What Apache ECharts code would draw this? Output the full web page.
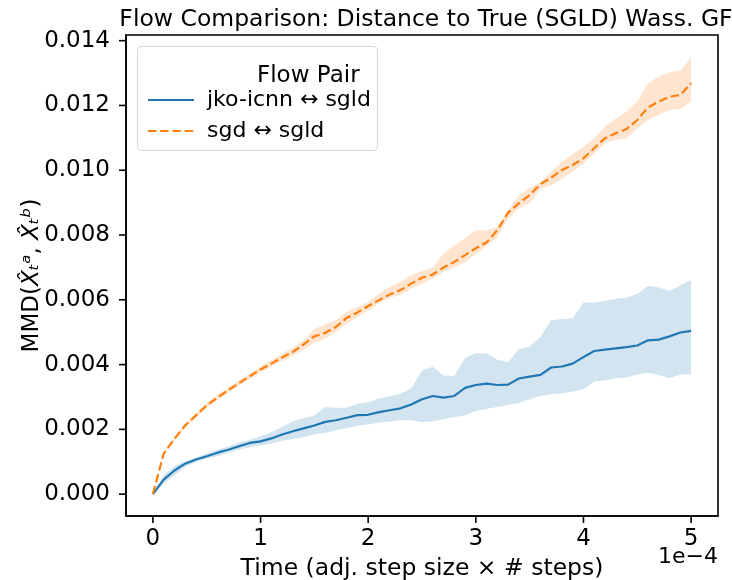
<!DOCTYPE html>
<html>
<head>
<meta charset="utf-8">
<script src="https://cdn.jsdelivr.net/npm/echarts@6/dist/echarts.min.js"></script>
<style>
html, body { margin: 0; padding: 0; background: #fff; }
#chart { width: 732px; height: 580px; }
</style>
</head>
<body>
<div id="chart"></div>
<script>
// time axis (units of 1e-4)
var times = [0, 0.1, 0.2, 0.3, 0.4, 0.5, 0.6, 0.7, 0.8, 0.9, 1.0,
  1.1, 1.2, 1.3, 1.4, 1.5, 1.6, 1.7, 1.8, 1.9, 2.0,
  2.1, 2.2, 2.3, 2.4, 2.5, 2.6, 2.7, 2.8, 2.9, 3.0,
  3.1, 3.2, 3.3, 3.4, 3.5, 3.6, 3.7, 3.8, 3.9, 4.0,
  4.1, 4.2, 4.3, 4.4, 4.5, 4.6, 4.7, 4.8, 4.9, 5.0]

var xTicks = [0, 1, 2, 3, 4, 5]
var yTicks = [0, 0.002, 0.004, 0.006, 0.008, 0.010, 0.012, 0.014]
var xMin = -0.25, xMax = 5.25
var yMin = -0.000675, yMax = 0.014175

// jko-icnn <-> sgld
var jkoMean = [0, 0.00045, 0.00073, 0.00094, 0.00107, 0.00117, 0.00128, 0.00137, 0.00148, 0.00158, 0.00163,
  0.00172, 0.00184, 0.00194, 0.00203, 0.00212, 0.00223, 0.00228, 0.00236, 0.00244, 0.00245,
  0.00253, 0.00259, 0.00265, 0.00277, 0.00293, 0.00303, 0.00298, 0.00303, 0.00328, 0.00337,
  0.00341, 0.00337, 0.00338, 0.00357, 0.00363, 0.00368, 0.00391, 0.00394, 0.00403, 0.00423,
  0.00442, 0.00446, 0.00450, 0.00454, 0.00459, 0.00475, 0.00477, 0.00487, 0.00499, 0.00504]
var jkoUpper = [0, 0.00058, 0.00087, 0.00102, 0.00113, 0.00126, 0.00137, 0.00147, 0.00159, 0.00168, 0.00179,
  0.00192, 0.00207, 0.00225, 0.00234, 0.00243, 0.00269, 0.00267, 0.00267, 0.00279, 0.00284,
  0.00295, 0.00302, 0.00310, 0.00326, 0.00382, 0.00393, 0.00367, 0.00365, 0.00420, 0.00435,
  0.00435, 0.00415, 0.00408, 0.00447, 0.00456, 0.00485, 0.00537, 0.00541, 0.00543, 0.00592,
  0.00592, 0.00596, 0.00603, 0.00606, 0.00618, 0.00643, 0.00638, 0.00627, 0.00644, 0.00661]
var jkoLower = [0, 0.00032, 0.00058, 0.00084, 0.00099, 0.00109, 0.00117, 0.00128, 0.00137, 0.00145, 0.00151,
  0.00156, 0.00164, 0.00170, 0.00176, 0.00185, 0.00189, 0.00197, 0.00204, 0.00211, 0.00215,
  0.00221, 0.00224, 0.00228, 0.00228, 0.00223, 0.00225, 0.00231, 0.00238, 0.00243, 0.00257,
  0.00264, 0.00269, 0.00276, 0.00281, 0.00293, 0.00303, 0.00308, 0.00311, 0.00317, 0.00324,
  0.00348, 0.00351, 0.00358, 0.00360, 0.00369, 0.00375, 0.00368, 0.00358, 0.00370, 0.00369]

// sgd <-> sgld
var sgdMean = [0, 0.00125, 0.00171, 0.00212, 0.00243, 0.00274, 0.00298, 0.00321, 0.00343, 0.00364, 0.00385,
  0.00403, 0.00422, 0.00439, 0.00462, 0.00487, 0.00498, 0.00516, 0.00544, 0.00561, 0.00581,
  0.00599, 0.00616, 0.00630, 0.00650, 0.00668, 0.00678, 0.00700, 0.00717, 0.00738, 0.00759,
  0.00777, 0.00815, 0.00869, 0.00898, 0.00923, 0.00957, 0.00977, 0.01001, 0.01016, 0.01037,
  0.01068, 0.01099, 0.01114, 0.01127, 0.01155, 0.01194, 0.01212, 0.01227, 0.01232, 0.01269]
var sgdUpper = [0, 0.00128, 0.00176, 0.00218, 0.00250, 0.00281, 0.00306, 0.00329, 0.00351, 0.00373, 0.00395,
  0.00414, 0.00434, 0.00452, 0.00475, 0.00510, 0.00524, 0.00537, 0.00563, 0.00578, 0.00593,
  0.00619, 0.00640, 0.00655, 0.00676, 0.00690, 0.00700, 0.00743, 0.00769, 0.00789, 0.00815,
  0.00815, 0.00825, 0.00877, 0.00923, 0.00944, 0.00964, 0.00995, 0.01026, 0.01050, 0.01073,
  0.01099, 0.01134, 0.01160, 0.01181, 0.01212, 0.01269, 0.01289, 0.01303, 0.01308, 0.01349]
var sgdLower = [0, 0.00122, 0.00166, 0.00206, 0.00236, 0.00267, 0.00290, 0.00313, 0.00335, 0.00355, 0.00376,
  0.00393, 0.00411, 0.00427, 0.00446, 0.00468, 0.00480, 0.00501, 0.00527, 0.00547, 0.00566,
  0.00589, 0.00607, 0.00615, 0.00635, 0.00650, 0.00666, 0.00686, 0.00700, 0.00717, 0.00741,
  0.00766, 0.00794, 0.00851, 0.00882, 0.00898, 0.00941, 0.00954, 0.00973, 0.00995, 0.01021,
  0.01052, 0.01083, 0.01093, 0.01099, 0.01129, 0.01155, 0.01171, 0.01186, 0.01189, 0.01212]

var blue = '#1f77b4'
var orange = '#ff7f0e'
var font = 'DejaVu Sans'

function pairs(vals) {
  return times.map(function (t, i) { return [t, vals[i]] })
}

// shaded band between lower and upper, drawn as one polygon via the axes
function bandSeries(lo, up, fill) {
  return {
    type: 'custom', silent: true, z: 1,
    data: times.map(function (t, i) { return [t, lo[i], up[i]] }),
    encode: { x: 0, y: [1, 2] },
    renderItem: function (params, api) {
      if (params.dataIndex !== 0) return null
      var pts = []
      for (var i = 0; i < times.length; i++) pts.push(api.coord([times[i], up[i]]))
      for (var j = times.length - 1; j >= 0; j--) pts.push(api.coord([times[j], lo[j]]))
      return { type: 'polygon', shape: { points: pts }, style: { fill: fill, stroke: null } }
    }
  }
}

var series = [
  bandSeries(jkoLower, jkoUpper, 'rgba(31,119,180,0.2)'),
  bandSeries(sgdLower, sgdUpper, 'rgba(255,127,14,0.2)'),
  {
    name: 'jko-icnn ↔ sgld', type: 'line', data: pairs(jkoMean),
    symbol: 'none', z: 3, color: blue,
    lineStyle: { color: blue, width: 2.2 }
  },
  {
    name: 'sgd ↔ sgld', type: 'line', data: pairs(sgdMean),
    symbol: 'none', z: 3, color: orange,
    lineStyle: { color: orange, width: 2.2, type: [8.5, 3.7] }
  }
]

var axisLine = { show: true, onZero: false, lineStyle: { color: '#000', width: 1.6 } }

var myChart = echarts.init(document.getElementById('chart'))
var option = {
  animation: false,
  title: {
    text: 'Flow Comparison: Distance to True (SGLD) Wass. GF',
    left: 421, top: 3, textAlign: 'center',
    textStyle: { fontFamily: font, fontSize: 23.5, fontWeight: 'normal', color: '#000' }
  },
  grid: {
    left: 126, right: 14, top: 35, bottom: 64,
    outerBoundsMode: 'none', containLabel: false,
    show: true, borderColor: '#000', borderWidth: 1.6, backgroundColor: 'transparent'
  },
  legend: {
    data: ['jko-icnn ↔ sgld', 'sgd ↔ sgld'],
    orient: 'vertical', left: 142, top: 84,
    itemWidth: 46, itemHeight: 22, itemGap: 9,
    itemStyle: { opacity: 0 },
    textStyle: { fontFamily: font, fontSize: 22, color: '#000', padding: [0, 0, 0, 8] }
  },
  xAxis: {
    type: 'value', min: xMin, max: xMax,
    name: 'Time (adj. step size × # steps)',
    nameLocation: 'middle', nameGap: 41, nameMoveOverlap: false,
    nameTextStyle: { fontFamily: font, fontSize: 23.5, color: '#000' },
    axisLine: axisLine,
    splitLine: { show: false },
    axisTick: { show: false },
    axisLabel: {
      margin: 0, customValues: xTicks,
      // tick mark drawn above each label
      formatter: function (v) { return '{t|}\n{v|' + v + '}' },
      rich: {
        t: { width: 1.6, height: 7, lineHeight: 7, backgroundColor: '#000' },
        v: { fontFamily: font, fontSize: 23, color: '#000', lineHeight: 33 }
      }
    }
  },
  yAxis: {
    type: 'value', min: yMin, max: yMax,
    name: '{n|MMD(}{i|X̂ₜᵃ}{n|, }{i|X̂ₜᵇ}{n|)}',
    nameLocation: 'middle', nameGap: 82, nameMoveOverlap: false,
    nameTextStyle: {
      fontFamily: font, fontSize: 23, color: '#000',
      rich: {
        n: { fontFamily: font, fontSize: 23, color: '#000' },
        i: { fontFamily: font, fontSize: 23, fontStyle: 'italic', color: '#000' }
      }
    },
    axisLine: axisLine,
    splitLine: { show: false },
    axisTick: { show: false },
    axisLabel: {
      margin: 0, customValues: yTicks,
      // label, gap, then tick mark ending on the frame
      formatter: function (v) { return '{v|' + v.toFixed(3) + '}{g|}{t|}' },
      rich: {
        v: { fontFamily: font, fontSize: 23, color: '#000', verticalAlign: 'middle' },
        g: { width: 9, height: 2 },
        t: { width: 7, height: 1.6, backgroundColor: '#000', verticalAlign: 'middle' }
      }
    }
  },
  graphic: [
    {
      type: 'rect', left: 137, top: 46, z: -10,
      shape: { width: 240, height: 104, r: 4 },
      style: { fill: 'rgba(255,255,255,0.8)', stroke: '#d6d6d6', lineWidth: 1 }
    },
    {
      type: 'text', left: 257, top: 65, z: 6,
      style: {
        text: 'Flow Pair', fontFamily: font, fontSize: 23, fill: '#000',
        textAlign: 'center', textVerticalAlign: 'middle'
      }
    },
    {
      type: 'text', right: 14, top: 546, z: 6,
      style: { text: '1e−4', fontFamily: font, fontSize: 22, fill: '#000' }
    }
  ],
  series: series
}
myChart.setOption(option)
</script>
</body>
</html>
